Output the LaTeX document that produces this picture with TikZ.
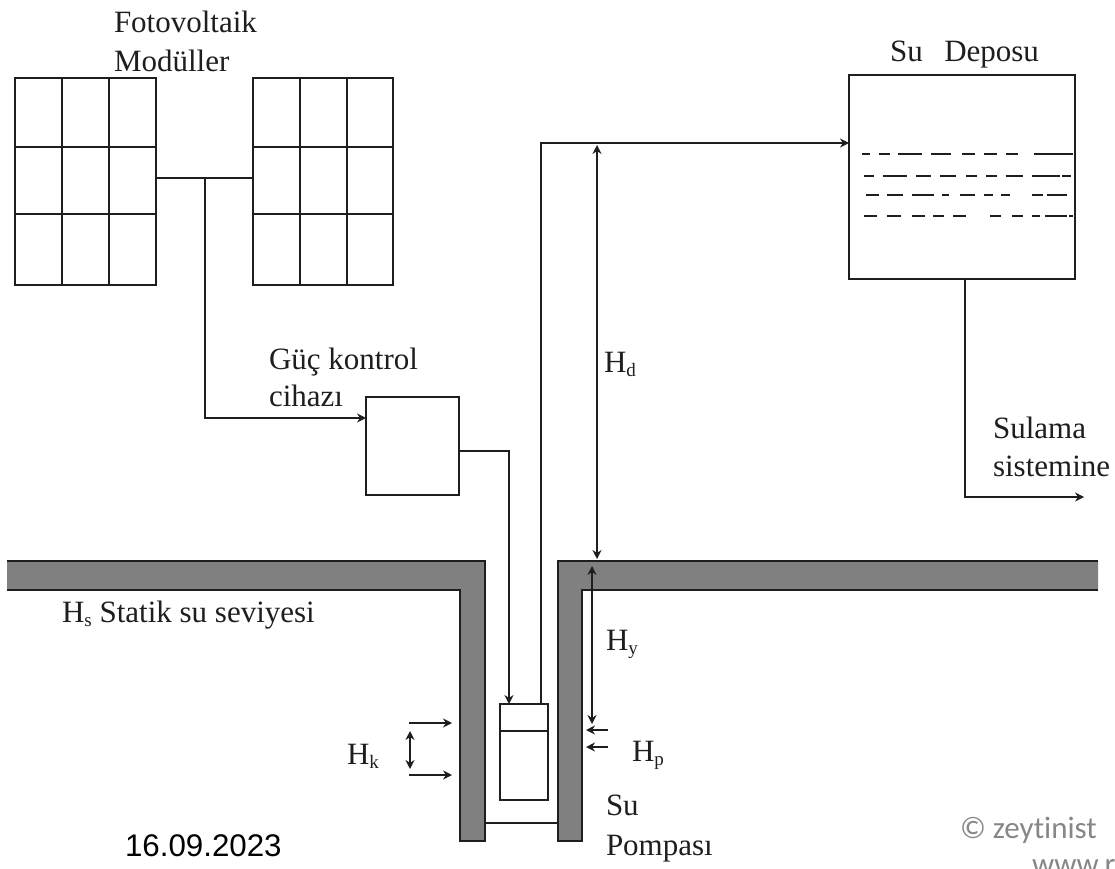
\documentclass[tikz,border=0pt]{standalone}
\usepackage{fontspec}
\setmainfont{Liberation Serif}
\newfontfamily\arialf{Liberation Sans}
\newfontfamily\calibf{Carlito}
\usetikzlibrary{arrows.meta}
\definecolor{wallgray}{RGB}{128,128,128}
\definecolor{inkc}{RGB}{30,30,30}
\definecolor{wmgray}{RGB}{135,135,135}
\tikzset{
  px/.style={x=1pt,y=-1pt},
  ln/.style={draw=inkc,line width=1.9pt},
  arr/.style={ln,-{Stealth[length=9pt,width=9pt]}},
  darr/.style={ln,{Stealth[length=9pt,width=9pt]}-{Stealth[length=9pt,width=9pt]}},
  boxn/.style={draw=inkc,line width=1.9pt,inner sep=0pt,outer sep=0pt,anchor=north west,fill=white},
  wall/.style={fill=wallgray,draw=inkc,line width=1.5pt},
  lbl/.style={anchor=base west,inner sep=0pt,outer sep=0pt,text=inkc,font=\fontsize{31}{34}\selectfont},
  wdash/.style={draw=inkc,line width=1.9pt}
}
\newcommand{\subs}[1]{\raisebox{-4pt}{\fontsize{19}{19}\selectfont #1}}
\begin{document}
\begin{tikzpicture}[px]
\useasboundingbox (0,0) rectangle (1115,869);
\clip (0,0) rectangle (1115,869);
\fill[white] (0,0) rectangle (1115,869);

% ground
\draw[wall] (1098,590) -- (582,590) -- (582,841) -- (558,841) -- (558,561) -- (1098,561);
\draw[wall] (7,561) -- (485,561) -- (485,841) -- (460,841) -- (460,590) -- (7,590);

% panels
\node[boxn,minimum width=141pt,minimum height=207pt] (panelL) at (15,78) {};
\node[boxn,minimum width=140pt,minimum height=207pt] (panelR) at (253,78) {};
\foreach \x in {62,109,300,347} \draw[ln] (\x,78) -- (\x,285);
\foreach \y in {147,214} {\draw[ln] (15,\y) -- (156,\y); \draw[ln] (253,\y) -- (393,\y);}

% boxes
\node[boxn,minimum width=93pt,minimum height=98pt] (ctrl) at (366,397) {};
\node[boxn,minimum width=226pt,minimum height=204pt] (tank) at (849,75) {};
\node[boxn,minimum width=48pt,minimum height=96pt] (pump) at (500,704) {};
\draw[ln] (pump.west |- 0,731) -- (pump.east |- 0,731);

% named points
\coordinate (busL) at (156,178);
\coordinate (busR) at (253,178);
\coordinate (busT) at (205,178);
\coordinate (ctrlIn) at (366,418);
\coordinate (ctrlOut) at (459,451);
\coordinate (pumpIn) at (509,704);
\coordinate (pumpOut) at (541,704);
\coordinate (tankIn) at (849,143);
\coordinate (tankOut) at (965,279);
\coordinate (irrig) at (1084,497);
\coordinate (hdT) at (597,145);
\coordinate (hdB) at (597,559);
\coordinate (hyT) at (592,566);
\coordinate (hyB) at (592,724);
\coordinate (capL) at (485,823);
\coordinate (capR) at (558,823);

% connectors
\draw[ln] (busL) -- (busR);
\draw[arr] (busT) -- (busT |- ctrlIn) -- (ctrlIn);
\draw[arr] (ctrlOut) -- (pumpIn |- ctrlOut) -- (pumpIn);
\draw[arr] (pumpOut) -- (pumpOut |- tankIn) -- (tankIn);
\draw[arr] (tankOut) -- (tankOut |- irrig) -- (irrig);
\draw[darr] (hdT) -- (hdB);
\draw[darr] (hyT) -- (hyB);
\draw[ln] (capL) -- (capR);

% Hk, Hp markers
\coordinate (hka) at (409,723); \coordinate (hkb) at (452,723);
\coordinate (hkc) at (409,775); \coordinate (hkd) at (452,775);
\coordinate (hke) at (410,731); \coordinate (hkf) at (410,769);
\draw[arr] (hka) -- (hkb);
\draw[arr] (hkc) -- (hkd);
\draw[darr] (hke) -- (hkf);
\coordinate (hpa) at (608,730); \coordinate (hpb) at (586,730);
\coordinate (hpc) at (608,747); \coordinate (hpd) at (586,747);
\draw[arr] (hpa) -- (hpb);
\draw[arr] (hpc) -- (hpd);

% water dashes in tank
\foreach \a/\b in {65/90,117/150,175/247,274/332,366/406,431/470,497/535,581/700}
  \draw[wdash] ({840+\a/3},154) -- ({840+\b/3},154);
\foreach \a/\b in {71/103,130/202,228/273,301/347,379/411,438/471,497/549,575/660,667/694}
  \draw[wdash] ({840+\a/3},176) -- ({840+\b/3},176);
\foreach \a/\b in {77/117,142/188,215/281,307/326,359/405,431/458,483/510,575/608,621/681}
  \draw[wdash] ({840+\a/3},195) -- ({840+\b/3},195);
\foreach \a/\b in {71/110,142/182,215/254,280/313,339/379,451/483,516/549,575/601,615/680,687/700}
  \draw[wdash] ({840+\a/3},216) -- ({840+\b/3},216);

% labels
\node[lbl] (t1) at (114,33) {Fotovoltaik};
\node[lbl] (t2) at (114,72) {Modüller};
\node[lbl] (t3) at (890,62) {Su\;\, Deposu};
\node[lbl] (t4) at (269,369) {Güç kontrol};
\node[lbl] (t5) at (269,406) {cihazı};
\node[lbl] (t6) at (604,372) {H\subs{d}};
\node[lbl] (t7) at (993,438) {Sulama};
\node[lbl] (t8) at (993,476) {sistemine};
\node[lbl] (t9) at (62,622) {H\subs{s} Statik su seviyesi};
\node[lbl] (t10) at (606,650) {H\subs{y}};
\node[lbl] (t11) at (347,764) {H\subs{k}};
\node[lbl] (t12) at (632,761) {H\subs{p}};
\node[lbl] (t13) at (606,815) {Su};
\node[lbl] (t14) at (606,855) {Pompası};
\node[lbl,font=\arialf\fontsize{31.3}{34}\selectfont,text=black] (t15) at (125,856) {16.09.2023};
\node[lbl,font=\calibf\fontsize{31}{34}\selectfont,text=wmgray] (t16) at (960,838) {© zeyt\kern0pt inist};
\node[lbl,font=\calibf\fontsize{31}{34}\selectfont,text=wmgray] (t17) at (1032,874) {www.r};
\end{tikzpicture}
\end{document}
